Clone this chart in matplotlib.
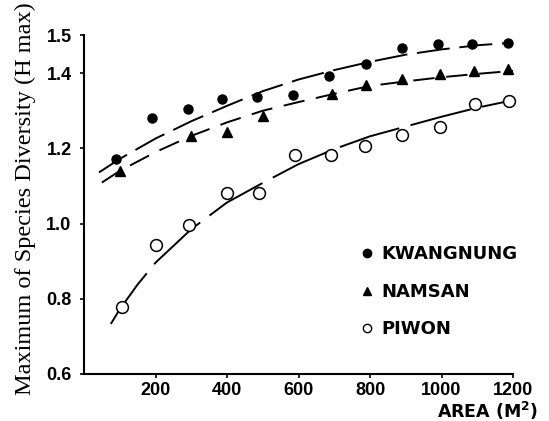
import matplotlib
matplotlib.use('Agg')
import matplotlib.pyplot as plt
from matplotlib.lines import Line2D

# observed points (area in m2, H max)
kw_area = [90, 190, 290, 385, 485, 585, 685, 790, 890, 990, 1085, 1185]
kw_h = [1.171, 1.280, 1.304, 1.331, 1.336, 1.341, 1.392, 1.424, 1.467, 1.478, 1.477, 1.480]

ns_area = [100, 300, 400, 500, 695, 790, 890, 995, 1090, 1185]
ns_h = [1.141, 1.232, 1.243, 1.285, 1.344, 1.368, 1.384, 1.397, 1.405, 1.411]

pw_area = [105, 200, 295, 400, 490, 590, 690, 785, 890, 995, 1095, 1190]
pw_h = [0.779, 0.944, 0.997, 1.080, 1.080, 1.181, 1.181, 1.205, 1.235, 1.256, 1.317, 1.325]

# fitted curves
kw_fit_x = [42, 100, 200, 300, 400, 500, 600, 700, 800, 900, 1000, 1100, 1200]
kw_fit_y = [1.136, 1.172, 1.226, 1.272, 1.313, 1.352, 1.383, 1.408, 1.430, 1.449, 1.463, 1.474, 1.481]
ns_fit_x = [50, 100, 200, 300, 400, 500, 600, 700, 800, 900, 1000, 1100, 1200]
ns_fit_y = [1.109, 1.140, 1.190, 1.233, 1.269, 1.300, 1.323, 1.345, 1.366, 1.378, 1.389, 1.398, 1.406]
pw_fit_x = [75, 100, 150, 200, 300, 400, 500, 600, 700, 800, 900, 1000, 1100, 1200]
pw_fit_y = [0.733, 0.772, 0.838, 0.896, 0.985, 1.056, 1.108, 1.158, 1.198, 1.232, 1.258, 1.284, 1.308, 1.328]

xticks = [200, 400, 600, 800, 1000, 1200]
yticks = [0.6, 0.8, 1.0, 1.2, 1.4, 1.5]

plt.rcParams['font.family'] = ['Liberation Sans', 'DejaVu Sans']
plt.rcParams['mathtext.fontset'] = 'dejavusans'

fig = plt.figure(figsize=(5.49, 4.21), dpi=100)
ax = fig.add_axes([84/549, 1-374/421, 429/549, (374-35.5)/421])

lw = 1.4
ax.plot(kw_fit_x, kw_fit_y, color='black', lw=lw, dashes=(17, 5), dash_capstyle='butt')
ax.plot(ns_fit_x, ns_fit_y, color='black', lw=lw, dashes=(11, 6), dash_capstyle='butt')
ax.plot(pw_fit_x, pw_fit_y, color='black', lw=lw, dashes=(32, 6), dash_capstyle='butt')

ax.plot(kw_area, kw_h, 'o', color='black', ms=6.5, clip_on=False)
ax.plot(ns_area, ns_h, '^', color='black', ms=6.5, clip_on=False)
ax.plot(pw_area, pw_h, 'o', mfc='white', mec='black', mew=1.1, ms=8.5, clip_on=False)

ax.set_xlim(0, 1200)
ax.set_ylim(0.6, 1.5)
ax.set_xticks(xticks)
ax.set_yticks(yticks)
ax.set_xticklabels([str(t) for t in xticks], fontsize=13, fontweight='bold')
ax.set_yticklabels(['%.1f' % t for t in yticks], fontsize=13, fontweight='bold')
ax.tick_params(direction='out', length=3, width=1.2)
ax.tick_params(axis='x', pad=3)
ax.tick_params(axis='y', pad=6)

for s in ['top', 'right']:
    ax.spines[s].set_visible(False)
for s in ['left', 'bottom']:
    ax.spines[s].set_linewidth(1.5)

fig.text(538/549, 1-418/421, r'AREA (M$^{\mathbf{2}}$)', ha='right', va='baseline',
         fontsize=12.5, fontweight='bold', family='DejaVu Sans')
fig.text(25/549, 1-199/421, 'Maximum of Species Diversity (H max)', rotation=90,
         ha='center', va='center', fontsize=17.5, family=['Liberation Serif', 'DejaVu Serif'])

handles = [
    Line2D([], [], ls='none', marker='o', color='black', ms=6),
    Line2D([], [], ls='none', marker='^', color='black', ms=6),
    Line2D([], [], ls='none', marker='o', mfc='white', mec='black', mew=1, ms=6),
]
leg = ax.legend(handles, ['KWANGNUNG', 'NAMSAN', 'PIWON'], loc='upper left',
                bbox_to_anchor=(0.648, 0.38), frameon=False, borderpad=0,
                borderaxespad=0, handlelength=0.6, handletextpad=0.45,
                labelspacing=1.08, prop={'family': 'DejaVu Sans', 'size': 13, 'weight': 'bold'})

fig.savefig('out.png', dpi=100)
